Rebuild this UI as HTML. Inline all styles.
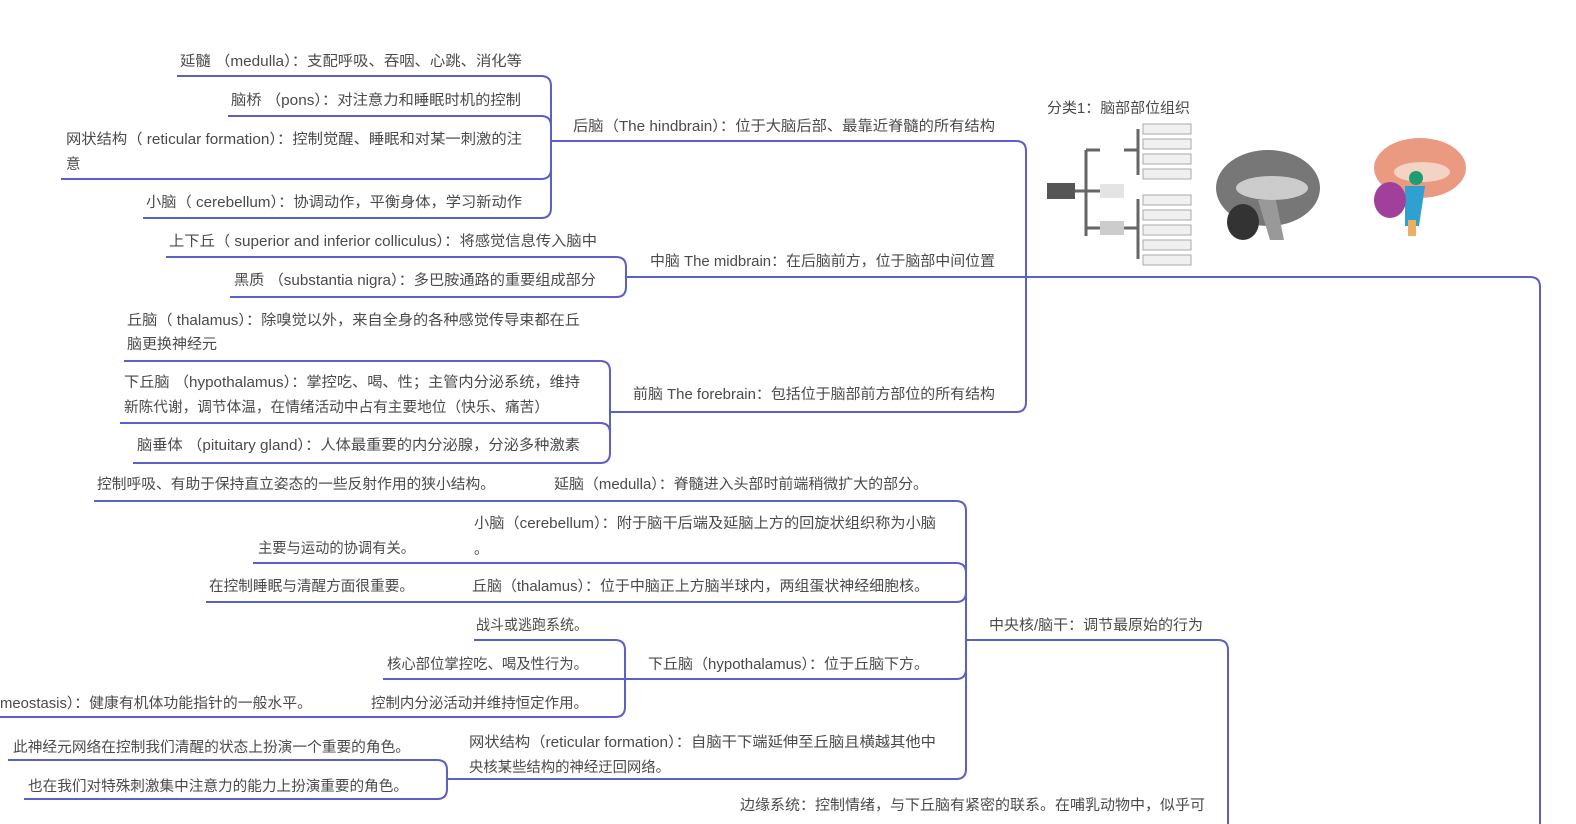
<!DOCTYPE html>
<html><head><meta charset="utf-8"><style>
html,body{margin:0;padding:0;background:#fff;}
svg{display:block}
text{font-family:"Liberation Sans","Noto Sans CJK SC",sans-serif;font-size:14.5px;fill:#4a4a4a;dominant-baseline:middle}
.l{fill:none;stroke:#5b5fc9;stroke-width:2}
</style></head><body>
<svg width="1576" height="824" viewBox="0 0 1576 824">
<g class="l">
<path d="M177 76H541q10 0 10 10V208q0 10-10 10H143"/>
<path d="M228 116H541q10 0 10 10"/>
<path d="M61 179H541q10 0 10-10"/>
<path d="M551 141H1016q10 0 10 10V402q0 10-10 10H610"/>
<path d="M166 257H616q10 0 10 10V287q0 10-10 10H230"/>
<path d="M626 277H1530q10 0 10 10V824"/>
<path d="M124 361H600q10 0 10 10V453q0 10-10 10H133"/>
<path d="M120 423H600q10 0 10 10"/>
<path d="M94 501H956q10 0 10 10V769q0 10-10 10H447"/>
<path d="M253 563H956q10 0 10 10"/>
<path d="M206 602H956q10 0 10-10"/>
<path d="M625 679H956q10 0 10-10"/>
<path d="M966 640H1218q10 0 10 10V824"/>
<path d="M474 640H615q10 0 10 10V707q0 10-10 10H0"/>
<path d="M383 679H625"/>
<path d="M8 760H437q10 0 10 10V789q0 10-10 10H24"/>
</g>
<g transform="translate(0,3)">
<text x="180" y="59" textLength="342" lengthAdjust="spacingAndGlyphs">延髓 （medulla）：支配呼吸、吞咽、心跳、消化等</text>
<text x="231" y="98" textLength="290" lengthAdjust="spacingAndGlyphs">脑桥 （pons）：对注意力和睡眠时机的控制</text>
<text x="66" y="137" textLength="456" lengthAdjust="spacingAndGlyphs">网状结构（ reticular formation）：控制觉醒、睡眠和对某一刺激的注</text>
<text x="66" y="162">意</text>
<text x="146" y="200" textLength="376" lengthAdjust="spacingAndGlyphs">小脑（ cerebellum）：协调动作，平衡身体，学习新动作</text>
<text x="169" y="239" textLength="428" lengthAdjust="spacingAndGlyphs">上下丘（ superior and inferior colliculus）：将感觉信息传入脑中</text>
<text x="234" y="278" textLength="362" lengthAdjust="spacingAndGlyphs">黑质 （substantia nigra）：多巴胺通路的重要组成部分</text>
<text x="127" y="318" textLength="453" lengthAdjust="spacingAndGlyphs">丘脑（ thalamus）：除嗅觉以外，来自全身的各种感觉传导束都在丘</text>
<text x="127" y="342" textLength="90" lengthAdjust="spacingAndGlyphs">脑更换神经元</text>
<text x="124" y="380" textLength="456" lengthAdjust="spacingAndGlyphs">下丘脑 （hypothalamus）：掌控吃、喝、性；主管内分泌系统，维持</text>
<text x="124" y="405" textLength="425" lengthAdjust="spacingAndGlyphs">新陈代谢，调节体温，在情绪活动中占有主要地位（快乐、痛苦）</text>
<text x="137" y="443" textLength="443" lengthAdjust="spacingAndGlyphs">脑垂体 （pituitary gland）：人体最重要的内分泌腺，分泌多种激素</text>
<text x="573" y="124" textLength="422" lengthAdjust="spacingAndGlyphs">后脑（The hindbrain）：位于大脑后部、最靠近脊髓的所有结构</text>
<text x="650" y="259" textLength="345" lengthAdjust="spacingAndGlyphs">中脑 The midbrain：在后脑前方，位于脑部中间位置</text>
<text x="633" y="392" textLength="362" lengthAdjust="spacingAndGlyphs">前脑 The forebrain：包括位于脑部前方部位的所有结构</text>
<text x="1047" y="106" textLength="143" lengthAdjust="spacingAndGlyphs">分类1：脑部部位组织</text>
<text x="97" y="482" textLength="398" lengthAdjust="spacingAndGlyphs">控制呼吸、有助于保持直立姿态的一些反射作用的狭小结构。</text>
<text x="554" y="482" textLength="374" lengthAdjust="spacingAndGlyphs">延脑（medulla）：脊髓进入头部时前端稍微扩大的部分。</text>
<text x="474" y="521" textLength="462" lengthAdjust="spacingAndGlyphs">小脑（cerebellum）：附于脑干后端及延脑上方的回旋状组织称为小脑</text>
<text x="474" y="547">。</text>
<text x="258" y="546" textLength="157" lengthAdjust="spacingAndGlyphs">主要与运动的协调有关。</text>
<text x="209" y="584" textLength="205" lengthAdjust="spacingAndGlyphs">在控制睡眠与清醒方面很重要。</text>
<text x="472" y="584" textLength="457" lengthAdjust="spacingAndGlyphs">丘脑（thalamus）：位于中脑正上方脑半球内，两组蛋状神经细胞核。</text>
<text x="476" y="623" textLength="112" lengthAdjust="spacingAndGlyphs">战斗或逃跑系统。</text>
<text x="387" y="662" textLength="201" lengthAdjust="spacingAndGlyphs">核心部位掌控吃、喝及性行为。</text>
<text x="648" y="662" textLength="281" lengthAdjust="spacingAndGlyphs">下丘脑（hypothalamus）：位于丘脑下方。</text>
<text x="371" y="701" textLength="217" lengthAdjust="spacingAndGlyphs">控制内分泌活动并维持恒定作用。</text>
<text x="0" y="701" textLength="312" lengthAdjust="spacingAndGlyphs">meostasis）：健康有机体功能指针的一般水平。</text>
<text x="469" y="740" textLength="467" lengthAdjust="spacingAndGlyphs">网状结构（reticular formation）：自脑干下端延伸至丘脑且横越其他中</text>
<text x="469" y="765" textLength="201" lengthAdjust="spacingAndGlyphs">央核某些结构的神经迂回网络。</text>
<text x="13" y="745" textLength="397" lengthAdjust="spacingAndGlyphs">此神经元网络在控制我们清醒的状态上扮演一个重要的角色。</text>
<text x="28" y="784" textLength="380" lengthAdjust="spacingAndGlyphs">也在我们对特殊刺激集中注意力的能力上扮演重要的角色。</text>
<text x="989" y="623" textLength="214" lengthAdjust="spacingAndGlyphs">中央核/脑干：调节最原始的行为</text>
<text x="740" y="803" textLength="465" lengthAdjust="spacingAndGlyphs">边缘系统：控制情绪，与下丘脑有紧密的联系。在哺乳动物中，似乎可</text>
</g>
<g>
<rect x="1047" y="183" width="28" height="16" fill="#555"/>
<path d="M1075 191H1090M1086 150V236M1086 150H1100M1086 191H1100M1086 228H1100" stroke="#666" stroke-width="3" fill="none"/>
<rect x="1100" y="184" width="24" height="14" fill="#e4e4e4"/>
<rect x="1100" y="221" width="24" height="14" fill="#ccc"/>
<path d="M1124 150H1138M1138 129V175M1124 228H1138M1138 199V259" stroke="#666" stroke-width="3" fill="none"/>
<g fill="#f0f0f0" stroke="#aaa" stroke-width="1">
<rect x="1143" y="124" width="48" height="10"/><rect x="1143" y="139" width="48" height="10"/><rect x="1143" y="154" width="48" height="10"/><rect x="1143" y="169" width="48" height="10"/>
<rect x="1143" y="195" width="48" height="10"/><rect x="1143" y="210" width="48" height="10"/><rect x="1143" y="225" width="48" height="10"/><rect x="1143" y="240" width="48" height="10"/><rect x="1143" y="255" width="48" height="10"/>
</g>
</g>
<g>
<ellipse cx="1268" cy="188" rx="52" ry="38" fill="#777"/>
<ellipse cx="1272" cy="188" rx="36" ry="12" fill="#ccc"/>
<ellipse cx="1243" cy="222" rx="16" ry="18" fill="#333"/>
<path d="M1258 200l12 40h14l-8-40z" fill="#999"/>
</g>
<g>
<ellipse cx="1420" cy="168" rx="46" ry="30" fill="#e99a80"/>
<ellipse cx="1422" cy="172" rx="28" ry="10" fill="#f4d2c4"/>
<circle cx="1416" cy="178" r="7" fill="#1aa070"/>
<path d="M1405 186h20l-6 40h-14z" fill="#30a0d0"/>
<ellipse cx="1390" cy="200" rx="16" ry="18" fill="#a0409a"/>
<rect x="1408" y="220" width="8" height="16" fill="#e8b060"/>
</g>
</svg>
</body></html>
